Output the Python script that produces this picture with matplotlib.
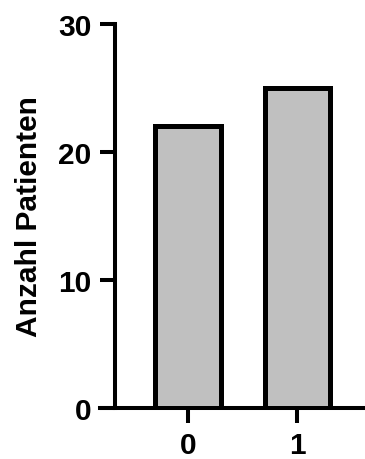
import matplotlib
matplotlib.use('agg')
import matplotlib.pyplot as plt

categories = ['0', '1']
patients = [22, 25]
y_ticks = [0, 10, 20, 30]

plt.rcParams['font.family'] = ['Liberation Sans', 'DejaVu Sans']
plt.rcParams['font.weight'] = 'bold'

fig = plt.figure(figsize=(3.65, 4.6), dpi=100)
ax = fig.add_axes([0.274, 0.111, 0.726, 0.8347])

x = list(range(len(categories)))
ax.bar(x, patients, width=0.6, color='#c0c0c0', edgecolor='black', linewidth=3.6, zorder=3)

ax.set_xlim(-0.80, 1.616)
ax.set_ylim(0, 30)
ax.set_xticks(x)
ax.set_xticklabels(categories)
ax.set_yticks(y_ticks)

ax.spines['top'].set_visible(False)
ax.spines['right'].set_visible(False)
ax.spines['left'].set_position(('data', -0.667))
ax.spines['left'].set_linewidth(2.9)
ax.spines['bottom'].set_linewidth(2.9)
ax.spines['left'].set_capstyle('projecting')

ax.tick_params(axis='both', direction='out', length=10.8, width=2.9, labelsize=21.5)
ax.tick_params(axis='y', pad=6)
ax.tick_params(axis='x', pad=6)

ax.set_ylabel('Anzahl Patienten', fontsize=21.5, fontweight='bold', labelpad=11)

fig.savefig('out.png', dpi=100)
